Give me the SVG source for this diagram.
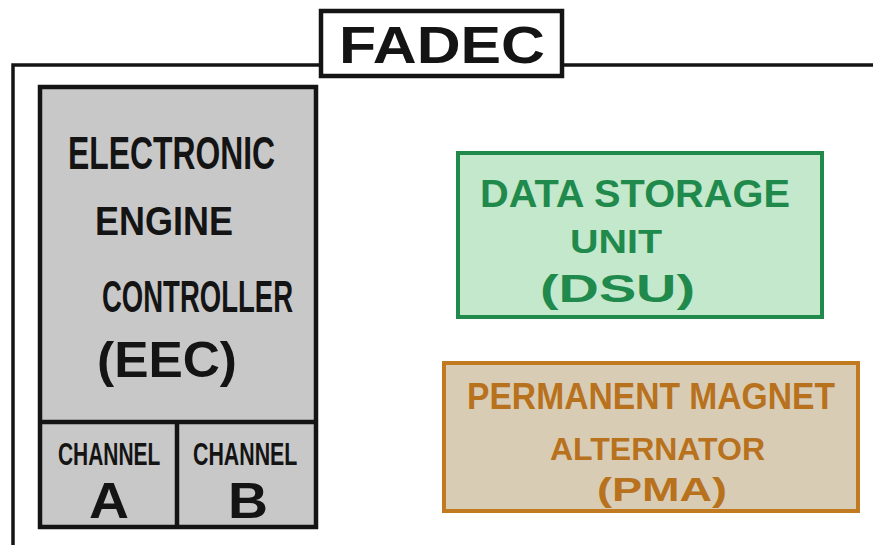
<svg xmlns="http://www.w3.org/2000/svg" width="873" height="545" viewBox="0 0 873 545">
<style>
text{font-family:"Liberation Sans","DejaVu Sans",Arial,sans-serif;font-weight:bold;text-anchor:start}
.k{fill:#141414}
.g{fill:#1f8a4c}
.b{fill:#b8711c}
.line{fill:none;stroke:#141414;stroke-width:3.5;stroke-linecap:square}
.blk{stroke:#141414;stroke-width:4.5}
</style>
<rect width="873" height="545" fill="#ffffff"/>
<g id="frame">
<path class="line" d="M13 545 V65 H320 M562 65 H873"/>
</g>
<g id="fadec-title">
<rect x="321" y="11" width="241" height="65" fill="#ffffff" class="blk"/>
<text class="k" x="339" y="63" font-size="52" textLength="206" lengthAdjust="spacingAndGlyphs">FADEC</text>
</g>
<g id="eec">
<rect x="40" y="87" width="276" height="440" fill="#c8c8c8" class="blk"/>
<line x1="40" y1="422" x2="316" y2="422" class="blk"/>
<text class="k" x="68" y="169" font-size="46" textLength="207" lengthAdjust="spacingAndGlyphs">ELECTRONIC</text>
<text class="k" x="95" y="235" font-size="40" textLength="138" lengthAdjust="spacingAndGlyphs">ENGINE</text>
<text class="k" x="102" y="312" font-size="44" textLength="191" lengthAdjust="spacingAndGlyphs">CONTROLLER</text>
<text class="k" x="97" y="377" font-size="50" textLength="140" lengthAdjust="spacingAndGlyphs">(EEC)</text>
</g>
<g id="channel-a">
<text class="k" transform="translate(58,465) scale(0.654,1)" x="0" y="0" font-size="32">CHANNEL</text>
<text class="k" x="89" y="518" font-size="50" textLength="40" lengthAdjust="spacingAndGlyphs">A</text>
</g>
<g id="channel-b">
<line x1="177" y1="422" x2="177" y2="527" class="blk"/>
<text class="k" transform="translate(193,465) scale(0.667,1)" x="0" y="0" font-size="32">CHANNEL</text>
<text class="k" x="228" y="518" font-size="50" textLength="40" lengthAdjust="spacingAndGlyphs">B</text>
</g>
<g id="dsu">
<rect x="458" y="153" width="364" height="164" fill="#c3e8cc" stroke="#1f8a4c" stroke-width="4"/>
<text class="g" x="480" y="207" font-size="38" textLength="310" lengthAdjust="spacingAndGlyphs">DATA STORAGE</text>
<text class="g" x="570" y="253" font-size="34" textLength="92" lengthAdjust="spacingAndGlyphs">UNIT</text>
<text class="g" x="540" y="302" font-size="38" textLength="155" lengthAdjust="spacingAndGlyphs">(DSU)</text>
</g>
<g id="pma">
<rect x="444" y="363" width="414" height="148" fill="#d9ccb4" stroke="#c17a1f" stroke-width="4"/>
<text class="b" x="467" y="409" font-size="36" textLength="368" lengthAdjust="spacingAndGlyphs">PERMANENT MAGNET</text>
<text class="b" x="550" y="460" font-size="32" textLength="215" lengthAdjust="spacingAndGlyphs">ALTERNATOR</text>
<text class="b" x="597" y="501" font-size="34" textLength="130" lengthAdjust="spacingAndGlyphs">(PMA)</text>
</g>
<g id="connectors"></g>
</svg>
